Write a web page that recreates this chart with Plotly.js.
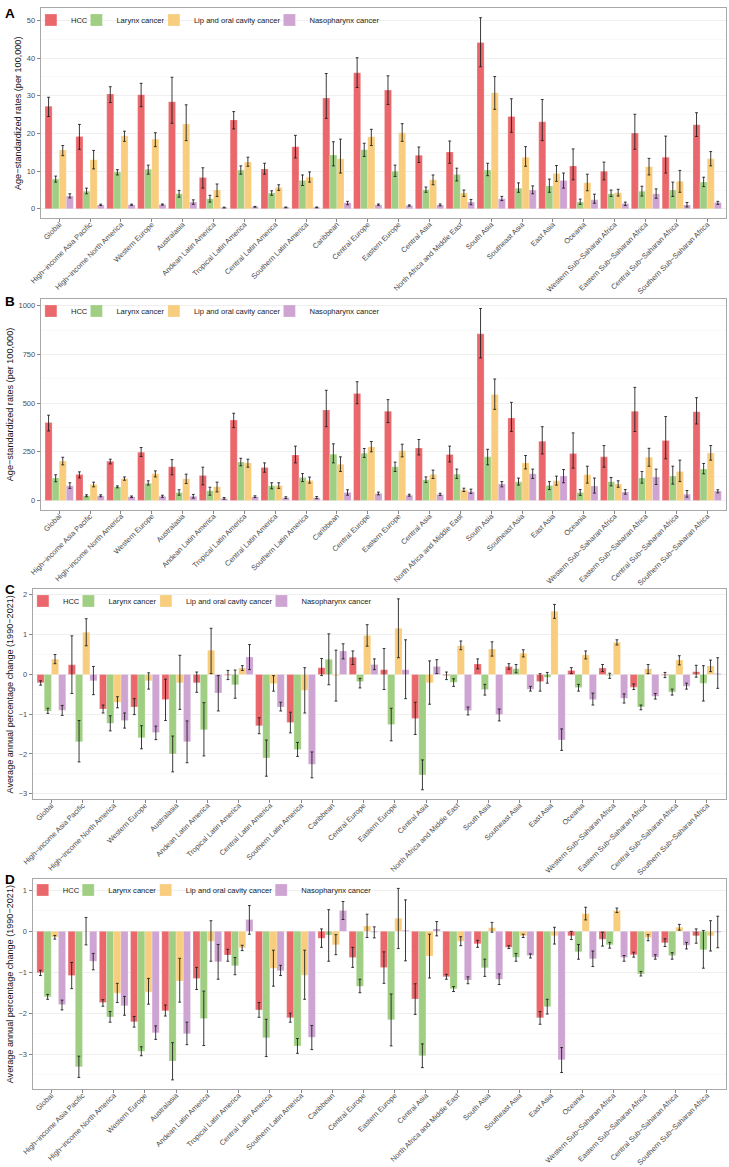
<!DOCTYPE html>
<html>
<head>
<meta charset="utf-8">
<script src="https://cdn.plot.ly/plotly-3.0.1.min.js"></script>
<style>
  html, body { margin: 0; padding: 0; background: #fff; }
  #chart { width: 729px; height: 1167px; }
</style>
</head>
<body>
<div id="chart"></div>
<script>
// GBD 2021 regions (x-axis categories, shared by all four panels)
const regions = [
  "Global", "High\u2212income Asia Pacific", "High\u2212income North America", "Western Europe",
  "Australasia", "Andean Latin America", "Tropical Latin America", "Central Latin America",
  "Southern Latin America", "Caribbean", "Central Europe", "Eastern Europe", "Central Asia",
  "North Africa and Middle East", "South Asia", "Southeast Asia", "East Asia", "Oceania",
  "Western Sub\u2212Saharan Africa", "Eastern Sub\u2212Saharan Africa",
  "Central Sub\u2212Saharan Africa", "Southern Sub\u2212Saharan Africa"
];
const seriesNames = ["HCC", "Larynx cancer", "Lip and oral cavity cancer", "Nasopharynx cancer"];
const seriesColors = ["#EA686C", "#A0CF83", "#F8CD7D", "#CEA4D2"];

// Panel A: age-standardized rates (per 100,000)
const A_hcc     = [27.2, 19.2, 30.5, 30.3, 28.4, 8.3, 23.6, 10.6, 16.5, 29.4, 36.1, 31.5, 14.2, 15.1, 44.1, 24.5, 23.1, 11.4, 10.0, 20.1, 13.7, 22.3];
const A_hcc_lo  = [24.5, 15.8, 28.2, 27.1, 22.7, 5.5, 21.2, 9.2, 13.5, 24.0, 32.2, 27.7, 12.3, 12.1, 37.7, 20.3, 18.1, 7.7, 7.7, 15.8, 9.5, 19.2];
const A_hcc_hi  = [29.6, 22.4, 32.4, 33.3, 34.9, 10.9, 25.8, 12.1, 19.5, 35.9, 40.1, 35.3, 16.4, 18.0, 50.7, 29.2, 29.0, 15.9, 12.4, 25.1, 19.3, 25.5];
const A_lar     = [7.9, 4.7, 9.8, 10.5, 4.0, 2.7, 10.3, 4.2, 7.5, 14.3, 15.7, 10.0, 5.1, 9.1, 10.3, 5.5, 6.1, 1.85, 4.0, 4.7, 5.0, 7.1];
const A_lar_lo  = [7.1, 4.0, 9.0, 9.2, 3.1, 1.8, 9.2, 3.6, 6.2, 11.4, 13.9, 8.6, 4.4, 7.4, 8.8, 4.4, 4.4, 1.2, 3.3, 3.4, 3.3, 5.9];
const A_lar_hi  = [8.7, 5.5, 10.4, 11.6, 4.9, 3.6, 11.4, 4.8, 9.0, 17.8, 17.4, 11.6, 5.8, 10.8, 12.1, 6.9, 7.9, 2.6, 5.0, 6.0, 7.1, 8.4];
const A_lip     = [15.6, 13.0, 19.4, 18.5, 22.5, 5.0, 12.4, 5.7, 8.4, 13.3, 19.1, 20.2, 7.7, 4.2, 30.8, 13.7, 9.4, 6.9, 4.3, 11.2, 7.3, 13.3];
const A_lip_lo  = [14.1, 10.6, 17.9, 16.5, 18.1, 3.3, 11.3, 4.9, 7.1, 9.5, 16.8, 17.9, 6.4, 3.3, 26.4, 11.3, 7.3, 4.8, 3.4, 9.0, 4.4, 11.4];
const A_lip_hi  = [16.8, 15.5, 20.6, 20.2, 27.6, 6.6, 13.7, 6.4, 9.8, 18.5, 21.1, 22.6, 9.0, 5.0, 35.1, 16.5, 11.5, 9.2, 5.2, 13.4, 10.2, 15.2];
const A_nas     = [3.4, 1.06, 1.1, 1.15, 1.8, 0.35, 0.55, 0.4, 0.4, 1.6, 1.1, 0.9, 1.0, 1.8, 2.7, 5.0, 7.5, 2.4, 1.4, 4.0, 1.06, 1.7];
const A_nas_lo  = [2.9, 0.9, 0.95, 1.0, 1.2, 0.25, 0.45, 0.3, 0.3, 1.1, 0.95, 0.75, 0.8, 1.1, 2.2, 4.0, 5.5, 1.5, 0.9, 2.8, 0.5, 1.2];
const A_nas_hi  = [4.0, 1.25, 1.25, 1.3, 2.4, 0.45, 0.65, 0.5, 0.5, 2.0, 1.3, 1.05, 1.3, 2.5, 3.3, 6.1, 9.5, 3.9, 1.8, 5.3, 1.7, 2.0];

// Panel B: age-standardized rates (per 100,000)
const B_hcc     = [400, 133, 202, 248, 173, 128, 413, 169, 234, 465, 550, 458, 270, 236, 856, 424, 304, 241, 224, 458, 308, 456];
const B_hcc_lo  = [357, 116, 188, 226, 132, 80, 374, 145, 193, 379, 497, 400, 234, 198, 732, 354, 239, 166, 171, 354, 214, 393];
const B_hcc_hi  = [438, 147, 212, 272, 210, 171, 448, 193, 279, 566, 610, 518, 313, 279, 986, 504, 379, 347, 282, 581, 431, 528];
const B_lar     = [115, 24, 70, 89, 41, 50, 197, 75, 118, 238, 243, 173, 106, 135, 224, 96, 77, 41, 96, 116, 126, 162];
const B_lar_lo  = [96, 19, 65, 79, 27, 27, 178, 60, 97, 193, 221, 149, 92, 113, 183, 79, 56, 26, 75, 89, 84, 137];
const B_lar_hi  = [132, 29, 75, 101, 55, 68, 217, 91, 138, 291, 267, 197, 121, 161, 263, 115, 97, 56, 118, 149, 176, 190];
const B_lip     = [203, 82, 113, 137, 111, 70, 193, 77, 103, 186, 275, 256, 133, 55, 545, 193, 101, 132, 85, 222, 149, 244];
const B_lip_lo  = [183, 70, 104, 121, 87, 44, 171, 62, 89, 149, 250, 224, 113, 46, 468, 162, 79, 89, 68, 176, 97, 207];
const B_lip_hi  = [222, 94, 121, 152, 135, 94, 212, 91, 120, 224, 303, 289, 156, 63, 624, 231, 125, 176, 101, 268, 207, 282];
const B_nas     = [75, 24, 19, 21, 21, 10, 19, 14, 14, 41, 36, 27, 31, 46, 84, 137, 126, 74, 44, 120, 32, 48];
const B_nas_lo  = [62, 19, 15, 16, 12, 6, 15, 10, 9, 27, 29, 22, 26, 36, 70, 113, 91, 38, 32, 82, 17, 39];
const B_nas_hi  = [91, 29, 23, 27, 31, 15, 24, 19, 20, 55, 43, 32, 37, 58, 97, 161, 159, 115, 56, 161, 51, 55];

// Panel C: average annual percentage change (1990-2021)
const C_hcc     = [-0.21, 0.24, -0.87, -0.82, -0.63, -0.21, -0.02, -1.29, -1.21, 0.17, 0.43, 0.12, -1.11, -0.03, 0.26, 0.20, -0.18, 0.10, 0.16, -0.32, -0.02, 0.07];
const C_hcc_lo  = [-0.27, -0.48, -0.97, -1.01, -1.16, -0.45, -0.13, -1.49, -1.47, -0.03, 0.25, -0.38, -1.51, -0.13, 0.14, 0.13, -0.42, 0.02, 0.07, -0.38, -0.08, -0.07];
const C_hcc_hi  = [-0.16, 0.97, -0.77, -0.61, -0.12, 0.06, 0.10, -1.09, -0.95, 0.40, 0.59, 0.65, -0.70, 0.06, 0.39, 0.27, 0.02, 0.17, 0.25, -0.24, 0.05, 0.23];
const C_lar     = [-0.92, -1.69, -1.23, -1.59, -2.00, -1.39, -0.26, -2.10, -1.89, 0.38, -0.18, -1.26, -2.53, -0.20, -0.38, 0.14, -0.07, -0.33, -0.03, -0.82, -0.44, -0.22];
const C_lar_lo  = [-0.98, -2.20, -1.42, -1.87, -2.45, -2.05, -0.60, -2.56, -2.06, -0.26, -0.34, -1.67, -2.90, -0.30, -0.52, 0.04, -0.22, -0.42, -0.10, -0.89, -0.52, -0.67];
const C_lar_hi  = [-0.85, -1.16, -1.04, -1.29, -1.55, -0.71, 0.11, -1.65, -1.71, 1.02, -0.10, -0.85, -2.15, -0.11, -0.25, 0.25, 0.05, -0.25, 0.03, -0.77, -0.37, 0.22];
const C_lip     = [0.38, 1.06, -0.70, -0.16, -0.21, 0.61, 0.16, -0.23, -0.40, -0.03, 0.98, 1.16, -0.21, 0.72, 0.64, 0.53, 1.59, 0.49, 0.81, 0.14, 0.36, 0.21];
const C_lip_lo  = [0.27, 0.72, -0.84, -0.37, -0.88, 0.02, 0.10, -0.42, -0.97, -0.67, 0.71, 0.42, -0.75, 0.62, 0.46, 0.44, 1.41, 0.39, 0.74, 0.02, 0.24, 0.07];
const C_lip_hi  = [0.50, 1.40, -0.56, 0.04, 0.48, 1.16, 0.22, -0.03, 0.17, 0.61, 1.25, 1.90, 0.34, 0.84, 0.82, 0.62, 1.76, 0.59, 0.87, 0.25, 0.47, 0.36];
const C_nas     = [-0.90, -0.16, -1.16, -1.46, -1.69, -0.47, 0.44, -0.82, -2.26, 0.59, 0.25, 0.12, 0.20, -0.91, -1.01, -0.37, -1.65, -0.63, -0.60, -0.55, -0.30, 0.02];
const C_nas_lo  = [-1.03, -0.51, -1.35, -1.64, -2.22, -0.92, 0.12, -0.92, -2.60, 0.39, 0.12, -0.61, 0.02, -1.02, -1.17, -0.42, -1.91, -0.77, -0.72, -0.62, -0.37, -0.35];
const C_nas_hi  = [-0.78, 0.20, -0.97, -1.30, -1.17, -0.03, 0.75, -0.70, -1.95, 0.77, 0.39, 0.87, 0.37, -0.82, -0.87, -0.30, -1.37, -0.47, -0.49, -0.48, -0.22, 0.42];

// Panel D: average annual percentage change (1990-2021)
const D_hcc     = [-1.01, -1.08, -1.74, -2.21, -1.94, -1.15, -0.58, -1.92, -2.11, -0.17, -0.64, -0.88, -1.65, -1.11, -0.30, -0.39, -2.11, -0.11, -0.19, -0.57, -0.28, -0.11];
const D_hcc_lo  = [-1.08, -1.40, -1.83, -2.34, -2.07, -1.42, -0.73, -2.10, -2.22, -0.39, -0.88, -1.27, -2.03, -1.17, -0.39, -0.42, -2.27, -0.20, -0.36, -0.63, -0.37, -0.29];
const D_hcc_hi  = [-0.95, -0.76, -1.67, -2.08, -1.80, -0.88, -0.44, -1.74, -2.00, 0.06, -0.39, -0.50, -1.28, -1.05, -0.22, -0.35, -1.96, 0.00, -0.02, -0.51, -0.18, 0.06];
const D_lar     = [-1.60, -3.31, -2.09, -2.93, -3.17, -2.13, -0.84, -2.60, -2.80, -0.09, -1.34, -2.16, -3.04, -1.40, -0.89, -0.63, -1.84, -0.50, -0.33, -1.04, -0.59, -0.45];
const D_lar_lo  = [-1.66, -3.57, -2.22, -3.04, -3.63, -2.79, -1.06, -3.06, -2.98, -0.73, -1.50, -2.80, -3.33, -1.47, -1.10, -0.73, -2.02, -0.68, -0.41, -1.09, -0.68, -0.90];
const D_lar_hi  = [-1.54, -3.05, -1.96, -2.82, -2.72, -1.46, -0.64, -2.15, -2.62, 0.53, -1.17, -1.53, -2.75, -1.35, -0.68, -0.54, -1.66, -0.32, -0.27, -0.98, -0.52, 0.02];
const D_lip     = [-0.14, 0.01, -1.51, -1.48, -1.21, -0.24, -0.40, -0.90, -1.07, -0.33, 0.13, 0.32, -0.60, -0.24, 0.09, -0.11, -0.11, 0.43, 0.51, -0.15, 0.10, -0.11];
const D_lip_lo  = [-0.19, -0.33, -1.74, -1.78, -1.73, -0.73, -0.47, -1.34, -1.66, -0.57, -0.15, -0.42, -1.14, -0.35, -0.02, -0.15, -0.31, 0.28, 0.46, -0.23, 0.03, -0.48];
const D_lip_hi  = [-0.10, 0.34, -1.27, -1.15, -0.66, 0.26, -0.34, -0.46, -0.46, -0.08, 0.42, 1.05, -0.07, -0.13, 0.22, -0.07, 0.10, 0.59, 0.57, -0.08, 0.17, 0.26];
const D_nas     = [-1.79, -0.73, -1.82, -2.48, -2.50, -0.74, 0.29, -0.96, -2.59, 0.51, -0.02, 0.03, 0.06, -1.19, -1.17, -0.59, -3.14, -0.67, -0.64, -0.63, -0.34, -0.02];
const D_nas_lo  = [-1.92, -0.94, -2.05, -2.64, -2.77, -1.17, -0.07, -1.08, -2.89, 0.29, -0.16, -0.72, -0.11, -1.28, -1.30, -0.65, -3.45, -0.86, -0.73, -0.68, -0.43, -0.40];
const D_nas_hi  = [-1.68, -0.54, -1.59, -2.31, -2.22, -0.32, 0.63, -0.83, -2.30, 0.73, 0.11, 0.77, 0.24, -1.11, -1.04, -0.55, -2.84, -0.48, -0.59, -0.57, -0.27, 0.37];

const rateTitle = "Age\u2212standardized rates (per 100,000)";
const aapcTitle = "Average annual percentage change (1990\u22122021)";

const W = 729, H = 1167;
const FONT = "Liberation Sans, Arial, Helvetica, sans-serif";
// left edge of each legend key, measured from the left side of the plotting area (px)
const keyOffsets = [2.5, 48, 125.5, 241];

// one entry per panel: series data, axis extent and pixel box of the plotting area
const panels = [
  { letter: "A", series: [[A_hcc, A_hcc_lo, A_hcc_hi], [A_lar, A_lar_lo, A_lar_hi], [A_lip, A_lip_lo, A_lip_hi], [A_nas, A_nas_lo, A_nas_hi]],
    title: rateTitle, range: [-2.5, 53.2], dtick: 10, minor: 5, box: [40.7, 725.7, 8.3, 218.3], letterY: 4.5, legendY: 20 },
  { letter: "B", series: [[B_hcc, B_hcc_lo, B_hcc_hi], [B_lar, B_lar_lo, B_lar_hi], [B_lip, B_lip_lo, B_lip_hi], [B_nas, B_nas_lo, B_nas_hi]],
    title: rateTitle, range: [-49, 1035], dtick: 250, minor: 125, box: [40.7, 725.7, 299, 510], letterY: 292, legendY: 311 },
  { letter: "C", series: [[C_hcc, C_hcc_lo, C_hcc_hi], [C_lar, C_lar_lo, C_lar_hi], [C_lip, C_lip_lo, C_lip_hi], [C_nas, C_nas_lo, C_nas_hi]],
    title: aapcTitle, range: [-3.14, 2.14], dtick: 1, minor: 0.5, box: [32.7, 725.7, 589.3, 799.3], letterY: 579.5, legendY: 601 },
  { letter: "D", series: [[D_hcc, D_hcc_lo, D_hcc_hi], [D_lar, D_lar_lo, D_lar_hi], [D_lip, D_lip_lo, D_lip_hi], [D_nas, D_nas_lo, D_nas_hi]],
    title: aapcTitle, range: [-3.86, 1.28], dtick: 1, minor: 0.5, box: [32.5, 725.7, 879, 1089.3], letterY: 870, legendY: 890 }
];

const data = [];
const layout = {
  width: W, height: H,
  margin: { l: 0, r: 0, t: 0, b: 0 },
  paper_bgcolor: "#ffffff", plot_bgcolor: "#ffffff",
  font: { family: FONT, size: 7.4, color: "#4D4D4D" },
  barmode: "group", bargap: 0.08, bargroupgap: 0,
  showlegend: true,
  annotations: []
};

let legendCount = 0;
panels.forEach((p, i) => {
  const n = i === 0 ? "" : String(i + 1);
  const xa = "x" + n, ya = "y" + n;
  const [x0, x1, yt, yb] = p.box;

  p.series.forEach(([v, lo, hi], s) => {
    // each series key gets its own single-entry legend so the row spacing stays compact
    legendCount += 1;
    const lg = legendCount === 1 ? "legend" : "legend" + legendCount;
    data.push({
      type: "bar", name: seriesNames[s], x: regions, y: v,
      xaxis: xa, yaxis: ya, legend: lg,
      marker: { color: seriesColors[s], line: { color: "rgba(255,255,255,0.6)", width: 0.4 } },
      error_y: {
        type: "data", symmetric: false,
        array: hi.map((h, k) => h - v[k]),
        arrayminus: lo.map((l, k) => v[k] - l),
        color: "rgba(25,25,25,0.85)", thickness: 1, width: 1.4
      },
      hoverinfo: "skip"
    });
    layout[lg] = {
      orientation: "h", x: (x0 + keyOffsets[s] - 12.3) / W, xanchor: "left",
      y: 1 - p.legendY / H, yanchor: "middle",
      bgcolor: "rgba(255,255,255,0)", borderwidth: 0,
      font: { size: 7.6, color: "#1A1A1A", family: FONT },
      itemclick: false, itemdoubleclick: false
    };
  });

  layout["xaxis" + n] = {
    domain: [x0 / W, x1 / W], anchor: ya,
    type: "category", categoryorder: "array", categoryarray: regions,
    range: [-0.6, regions.length - 0.4],
    tickangle: -45, tickfont: { size: 7.4, color: "#4D4D4D", family: FONT },
    ticklabelstandoff: -5,
    ticks: "outside", ticklen: 3, tickwidth: 0.6, tickcolor: "#333333",
    showgrid: false, zeroline: false,
    showline: true, mirror: true, linecolor: "#A8A8A8", linewidth: 1,
    fixedrange: true
  };
  layout["yaxis" + n] = {
    domain: [1 - yb / H, 1 - yt / H], anchor: xa,
    range: p.range, dtick: p.dtick, tick0: 0,
    tickfont: { size: 7.5, color: "#4D4D4D", family: FONT },
    ticks: "outside", ticklen: 3, tickwidth: 0.6, tickcolor: "#333333",
    showgrid: true, gridcolor: "#EBEBEB", gridwidth: 0.8,
    minor: { dtick: p.minor, tick0: 0, showgrid: true, gridcolor: "#F4F4F4", gridwidth: 0.5 },
    zeroline: false,
    showline: true, mirror: true, linecolor: "#A8A8A8", linewidth: 1,
    title: { text: p.title, font: { size: 9.1, color: "#111111", family: FONT }, standoff: 3 },
    fixedrange: true
  };
  layout.annotations.push({
    xref: "paper", yref: "paper", x: 3 / W, y: 1 - p.letterY / H,
    xanchor: "left", yanchor: "top", showarrow: false,
    text: "<b>" + p.letter + "</b>",
    font: { size: 13.5, color: "#000000", family: FONT }
  });
});

Plotly.newPlot("chart", data, layout, { staticPlot: true, displayModeBar: false });
</script>
</body>
</html>
